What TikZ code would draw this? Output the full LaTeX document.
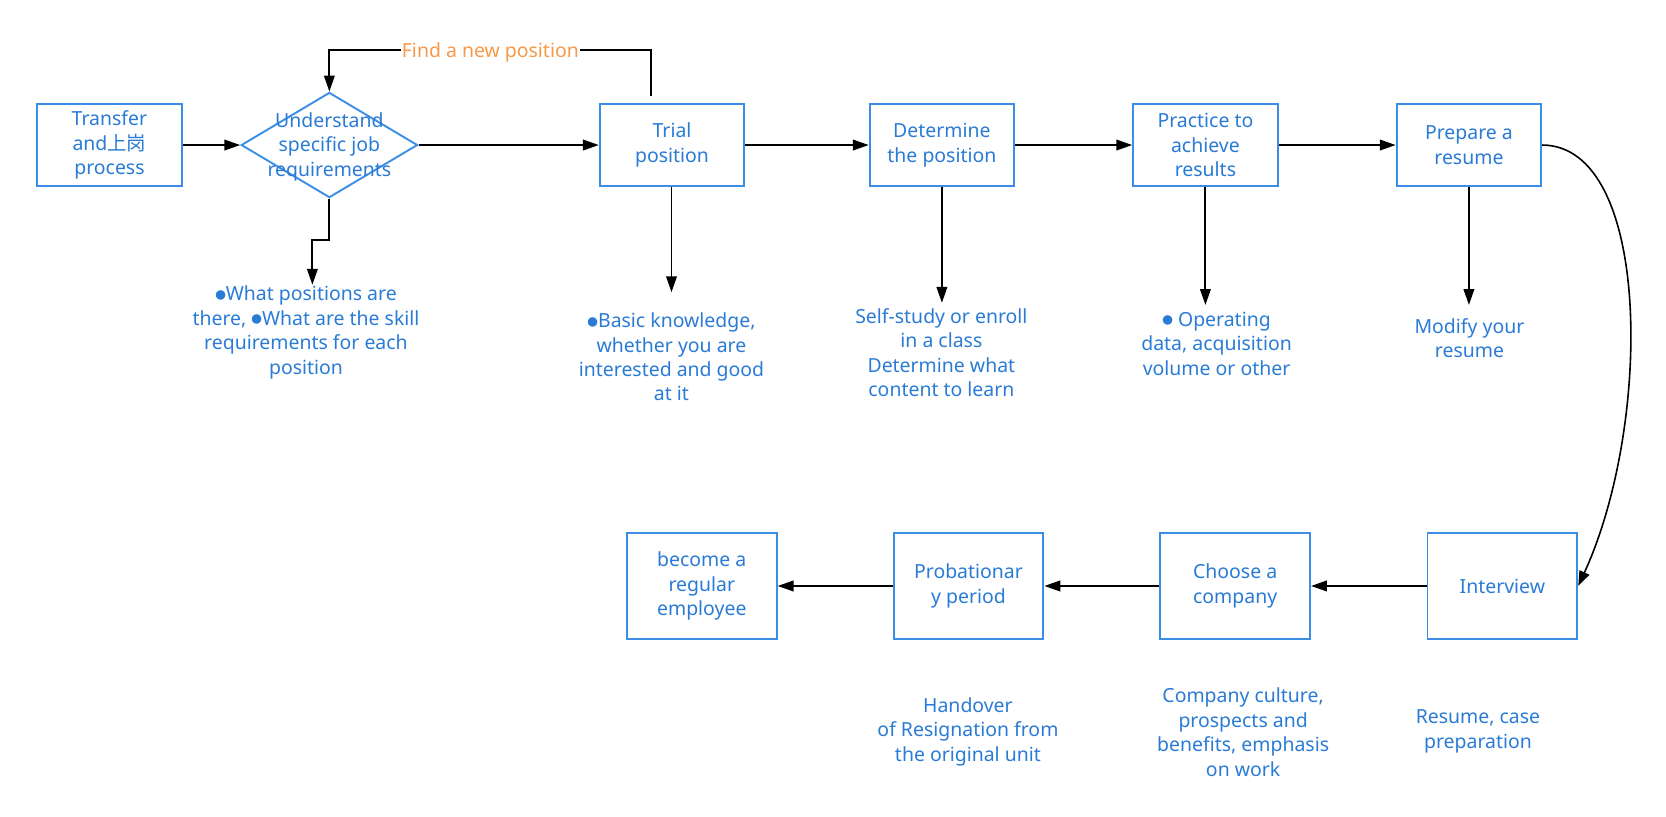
\documentclass[tikz,border=0pt]{standalone}
\usepackage{fontspec}
\setmainfont{Noto Sans}
\newfontfamily\cjk{Noto Sans CJK SC}
\usetikzlibrary{arrows.meta,shapes.geometric}
\definecolor{boxblue}{HTML}{3A8EE6}
\definecolor{txtblue}{HTML}{2A7BD5}
\definecolor{orng}{HTML}{F7994A}
\newcommand{\bul}{\raisebox{1.5pt}{\fontsize{10pt}{10pt}\cjk ●}}
\newcommand{\fnt}{\fontsize{18.3pt}{23pt}\selectfont}
\tikzset{
  box/.style={draw=boxblue,line width=1.8pt,fill=white,minimum width=136pt,minimum height=77pt,inner sep=0pt,text=txtblue,align=center,font=\fnt},
  bbox/.style={box,minimum width=141pt,minimum height=99pt},
  txt/.style={text=txtblue,align=center,font=\fnt,inner sep=0pt},
  conn/.style={line width=1.8pt,-{Triangle[length=15pt,width=10pt]}},
}
\begin{document}
\begin{tikzpicture}[x=1pt,y=-1pt]
\useasboundingbox (0,0) rectangle (1568,768);
% top row
\node[box] (b1) at (103,136.5) {Transfer\\and{\cjk 上岗}\\process};
\node[draw=boxblue,line width=1.8pt,diamond,minimum width=166pt,minimum height=99pt,inner sep=0pt] (dia) at (310,136.5) {};
\node[txt] (diat) at (310,138) {Understand\\specific job\\requirements};
\node[box] (b2) at (632.5,136.5) {Trial\\position};
\node[box] (b3) at (886.5,136.5) {Determine\\the position};
\node[box] (b4) at (1134.5,136.5) {Practice to\\achieve\\results};
\node[box] (b5) at (1382.5,136.5) {Prepare a\\resume};
% bottom row
\node[bbox] (c1) at (1414,551.5) {Interview};
\node[bbox] (c2) at (1162.5,551.5) {Choose a\\company};
\node[bbox] (c3) at (911.5,551.5) {Probationar\\y period};
\node[bbox] (c4) at (660.5,551.5) {become a\\regular\\employee};
% texts
\node[txt] (t1) at (288,313) {\bul What positions are\\there, \bul What are the skill\\requirements for each\\position};
\node[txt] (t2) at (632,336) {\bul Basic knowledge,\\whether you are\\interested and good\\at it};
\node[txt] (t3) at (886,332) {Self-study or enroll\\in a class\\Determine what\\content to learn};
\node[txt] (t4) at (1145,323.5) {\bul{} Operating\\data, acquisition\\volume or other};
\node[txt] (t5) at (1383,318) {Modify your\\resume};
\node[txt] (t6) at (911,688.5) {Handover\\of Resignation from\\the original unit};
\node[txt] (t7) at (1170,689) {Company culture,\\prospects and\\benefits, emphasis\\on work};
\node[txt] (t8) at (1391,688.5) {Resume, case\\preparation};
% coordinates
\coordinate (a1) at (294,268);
\coordinate (a2) at (632,275);
\coordinate (a3) at (886.5,285);
\coordinate (a4) at (1134.5,287);
\coordinate (a5) at (1382.5,287);
\coordinate (fb) at (613,90);
% connectors
\draw[conn] (b1) -- (dia);
\draw[conn] (dia.east) -- (b2);
\draw[conn] (b2) -- (b3);
\draw[conn] (b3) -- (b4);
\draw[conn] (b4) -- (b5);
\draw[conn] (dia.south) -- ++(0,39) -| (a1);
\draw[conn] (b2.south -| a2) -- (a2);
\draw[conn] (b3) -- (a3);
\draw[conn] (b4) -- (a4);
\draw[conn] (b5) -- (a5);
\draw[conn] (fb) -- ++(0,-43) -| (dia.north) node[pos=0.25,fill=white,inner sep=1pt,yshift=-2.5pt,text=orng,font=\fnt]{Find a new position};
\draw[line width=1.5pt,-{Triangle[length=14pt,width=10pt]}] (b5.east) .. controls (1555,137) and (1555,400) .. (c1.east);
\draw[conn] (c1) -- (c2);
\draw[conn] (c2) -- (c3);
\draw[conn] (c3) -- (c4);
\end{tikzpicture}
\end{document}
